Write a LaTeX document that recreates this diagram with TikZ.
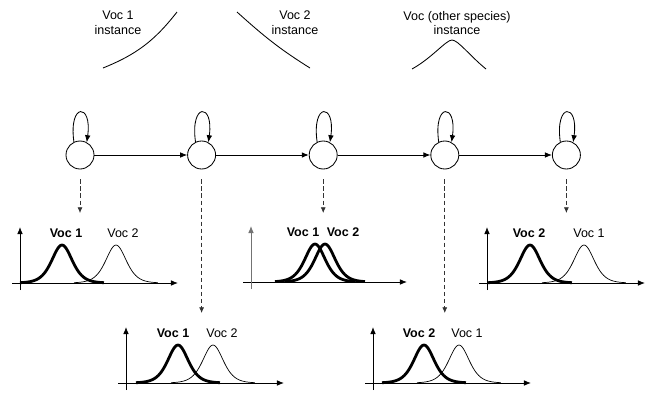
\documentclass[tikz,border=0pt]{standalone}
\usepackage{fontspec}
\setmainfont{Liberation Sans}
\usetikzlibrary{arrows.meta}

\tikzset{
	state/.style={circle, draw=black, line width=.6, minimum size=0.7cm, inner sep=0},
	tip/.style={-{Latex[length=5pt, width=4pt]}},
	dasharrow/.style={densely dashed, line width=.5, draw=black!80, -{Latex[length=4pt, width=3.5pt]}},
	axis/.style={line width=.6, -{Latex[length=5pt, width=4pt]}},
	strong/.style={line width=2},
	weak/.style={line width=.5},
	lbl/.style={font=\fontsize{8.9}{10.5}\selectfont, inner sep=1pt}
}

\begin{document}
\begin{tikzpicture}
		\useasboundingbox (0, 0) rectangle (16.5, 9.8);

		% instances on top
		\node[lbl, align=center] (i1) at (2.95, 9.225) {Voc 1\\instance};
		\node[lbl, align=center] (i2) at (7.375, 9.225) {Voc 2\\instance};
		\node[lbl, align=center] (i3) at (11.425, 9.225) {Voc (other species)\\instance};
		\draw[line width=.6] (2.575, 8.1) to[out=22, in=232] (4.425, 9.5);
		\draw[line width=.6] (5.925, 9.5) to[out=-42, in=148] (7.75, 8.1);
		\draw[line width=.6] (10.3, 8.075) .. controls (10.8, 8.35) and (11.15, 8.8) .. (11.3, 8.8) .. controls (11.45, 8.8) and (11.75, 8.4) .. (12.15, 8.075);

		% chain
		\foreach \i in {1, ..., 5} {
			\node[state] (c\i) at (2+3.04*\i-3.04, 5.925) {};
			\draw[tip, line width=.6] (c\i.115) .. controls +(98:1.0) and +(82:1.0) .. (c\i.62);
		}
		\foreach \i/\j in {1/2, 2/3, 3/4, 4/5} {
			\draw[tip, line width=.6] (c\i) -- (c\j);
		}

		% dashed links down to the plots
		\foreach \i/\y in {1/4.475, 2/1.975, 3/4.475, 4/1.975, 5/4.475} {
			\coordinate (t\i) at (c\i |- 0, \y);
			\draw[dasharrow] ([yshift=-0.25cm]c\i.south) -- (t\i);
		}

		% plots with one strong and one weak bump
		\foreach \ox/\oy/\a/\b/\la/\lb/\na/\nb in {0.5/2.725/1.05/2.4/1.15/2.575/1/2, 3.15/0.225/1.3/2.175/1.175/2.4/1/2, 9.325/0.225/1.275/2.15/1.15/2.35/2/1, 12.175/2.725/1.075/2.425/1.05/2.55/2/1} {
			\draw[axis] (\ox-0.2, \oy) -- (\ox+3.95, \oy);
			\draw[axis] (\ox, \oy-0.175) -- (\ox, \oy+1.4);
			\draw[weak] plot[domain=-1.05:1.05, samples=61, variable=\t] ({\ox+\b+\t}, {\oy+0.95/cosh(\t/0.34)^2});
			\draw[strong] plot[domain=-1.05:1.05, samples=61, variable=\t] ({\ox+\a+\t}, {\oy+0.95/cosh(\t/0.34)^2});
			\node[lbl] at (\ox+\la, \oy+1.25) {\bfseries Voc \na};
			\node[lbl] at (\ox+\lb, \oy+1.25) {Voc \nb};
		}

		% plot with both bumps strong
		\draw[axis] (6.075, 2.75) -- (10.175, 2.75);
		\draw[axis, draw=black!55] (6.275, 2.575) -- (6.275, 4.15);
		\foreach \a in {1.6, 1.85} {
			\draw[strong] plot[domain=-1.0:1.0, samples=61, variable=\t] ({6.275+\a+\t}, {2.75+0.95/cosh(\t/0.34)^2});
		}
		\node[lbl] at (7.575, 4.0) {\bfseries Voc 1};
		\node[lbl] at (8.575, 4.0) {\bfseries Voc 2};
	\end{tikzpicture}
\end{document}
